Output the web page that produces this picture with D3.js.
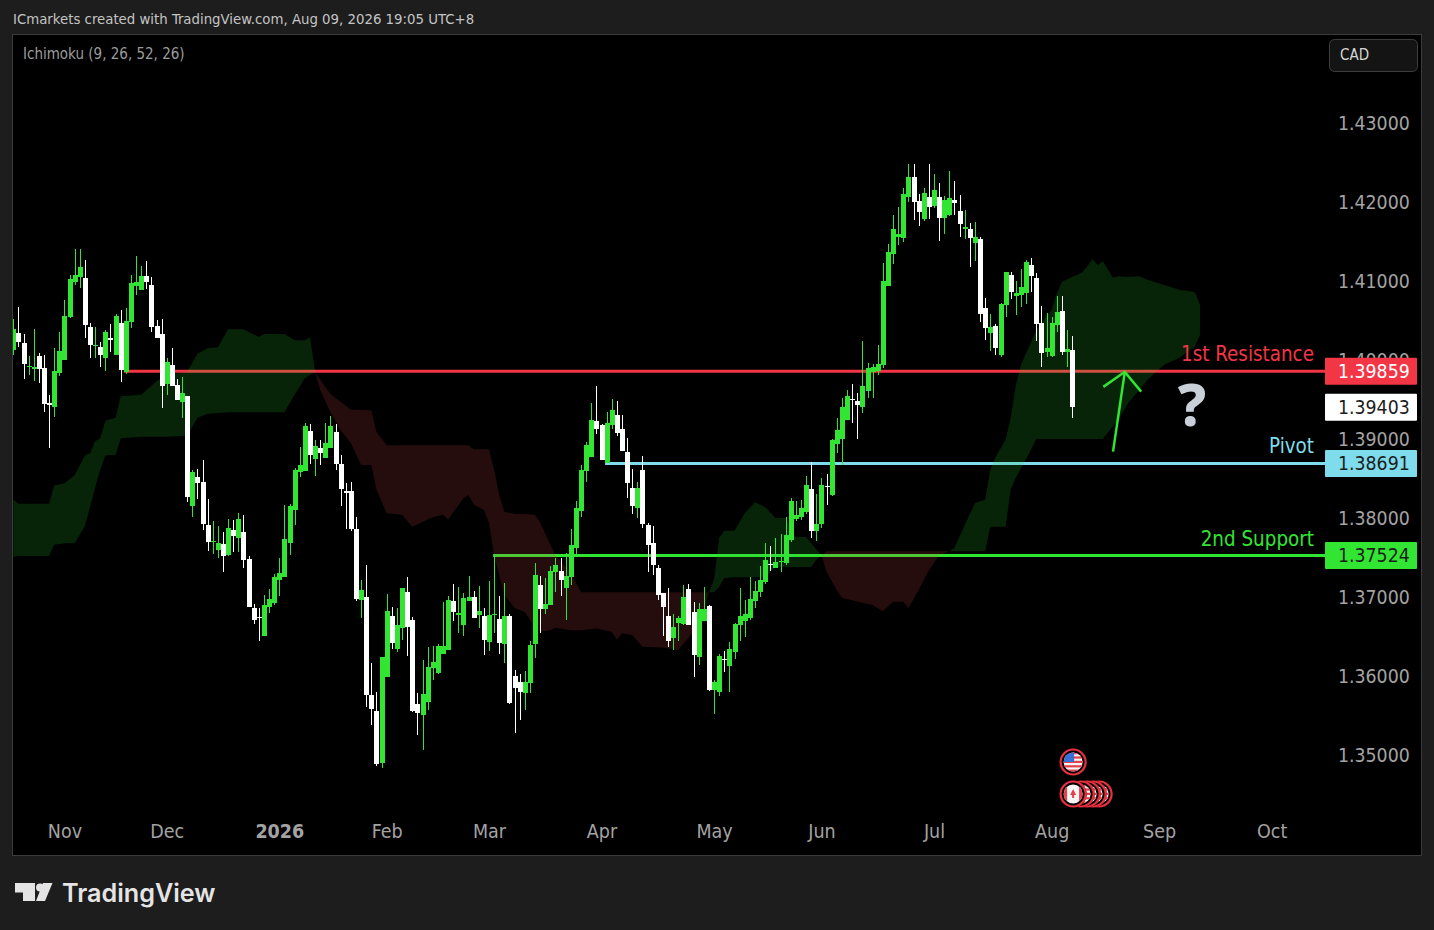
<!DOCTYPE html>
<html>
<head>
<meta charset="utf-8">
<script src="https://cdn.jsdelivr.net/npm/d3@7"></script>
<style>
  html, body { margin: 0; padding: 0; background: #1d1d1d; }
  svg { display: block; }
  text { font-family: "DejaVu Sans Condensed", "DejaVu Sans", sans-serif; }
</style>
</head>
<body>
<div id="viz"></div>
<script>
// candles, prices x 10000, one entry per trading day
const opens = [
  14013,14034,14022,13991,13989,14005,13990,13946,13941,13984,14000,14054,14099,14105,14104,14042,14018,14016,14003,14028,
  14006,14047,13985,14048,14094,14089,14106,14095,14043,14033,13970,13994,13968,13947,13954,13815,13852,13846,13791,13770,
  13760,13767,13753,13785,13775,13782,13748,13686,13675,13651,13687,13692,13722,13725,13768,13810,13858,13860,13910,13875,
  13889,13876,13889,13909,13868,13834,13834,13786,13696,13700,13576,13556,13490,13599,13676,13634,13661,13706,13671,13565,
  13551,13567,13610,13604,13628,13633,13695,13677,13665,13695,13700,13677,13676,13643,13677,13672,13641,13676,13600,13592,
  13578,13591,13641,13715,13685,13690,13732,13733,13711,13725,13762,13809,13860,13877,13923,13918,13870,13918,13930,13913,
  13884,13838,13813,13861,13791,13768,13737,13705,13676,13648,13667,13666,13710,13681,13624,13670,13689,13582,13580,13622,
  13613,13630,13665,13670,13673,13695,13706,13719,13742,13737,13744,13743,13772,13799,13801,13808,13837,13784,13792,13841,
  13829,13894,13900,13924,13951,13948,13941,13961,13985,13986,13994,14094,14134,14156,14154,14206,14232,14201,14179,14206,
  14195,14206,14180,14184,14203,14189,14166,14166,14148,14153,14066,14034,14043,14006,14070,14108,14081,14082,14085,14120,
  14104,14047,14010,14005,14044,14062,14010,14013
];
const highs = [
  14052,14067,14033,14005,14039,14009,14006,13956,14015,14035,14076,14108,14141,14141,14127,14047,14042,14023,14038,14046,
  14058,14063,14066,14108,14132,14119,14125,14105,14051,14052,14003,14015,13976,13978,13954,13861,13862,13873,13824,13796,
  13790,13782,13799,13798,13806,13804,13752,13691,13686,13703,13710,13729,13749,13816,13818,13863,13890,13920,13919,13899,
  13899,13920,13929,13919,13880,13844,13846,13801,13722,13740,13616,13580,13624,13704,13687,13686,13711,13725,13675,13578,
  13620,13637,13638,13641,13694,13701,13716,13713,13705,13727,13708,13714,13686,13720,13753,13701,13718,13679,13608,13603,
  13606,13644,13743,13727,13724,13739,13749,13749,13756,13786,13822,13867,13896,13946,13967,13919,13934,13951,13948,13930,
  13901,13862,13846,13878,13794,13790,13740,13705,13711,13679,13676,13715,13716,13694,13692,13713,13690,13595,13628,13632,
  13643,13667,13711,13696,13725,13720,13739,13768,13764,13775,13780,13801,13825,13822,13823,13853,13871,13830,13851,13856,
  13900,13927,13952,13962,13970,13958,14024,13996,13995,14019,14123,14147,14184,14194,14218,14248,14248,14210,14218,14248,
  14235,14224,14208,14239,14227,14209,14190,14173,14175,14156,14078,14058,14046,14072,14111,14111,14100,14115,14127,14129,
  14110,14068,14060,14054,14081,14081,14038,14030
];
const lows = [
  14006,14017,13976,13981,13973,13971,13934,13889,13928,13980,14000,14053,14095,14091,14028,14003,14003,13991,13986,14010,
  14006,13972,13982,14041,14082,14089,14090,14035,14028,13939,13956,13967,13949,13927,13820,13801,13824,13785,13758,13754,
  13749,13732,13752,13757,13757,13737,13687,13666,13644,13651,13680,13690,13701,13725,13753,13791,13852,13860,13868,13853,
  13867,13876,13889,13861,13815,13786,13784,13695,13673,13561,13538,13486,13484,13599,13634,13630,13646,13625,13554,13525,
  13506,13557,13595,13603,13628,13633,13670,13654,13651,13695,13673,13661,13627,13632,13654,13628,13616,13565,13528,13544,
  13557,13578,13623,13654,13679,13690,13706,13701,13671,13715,13754,13801,13846,13877,13906,13873,13870,13913,13904,13885,
  13825,13805,13800,13787,13732,13728,13696,13651,13637,13633,13644,13665,13665,13599,13614,13670,13581,13552,13575,13605,
  13580,13622,13644,13649,13671,13686,13700,13716,13733,13737,13732,13740,13770,13796,13797,13805,13775,13771,13787,13816,
  13828,13882,13867,13924,13920,13900,13933,13952,13952,13981,13990,14094,14122,14146,14149,14200,14177,14170,14176,14179,
  14192,14151,14159,14182,14184,14156,14153,14118,14125,14048,14025,14011,14006,14004,14054,14077,14057,14067,14071,14086,
  14024,13991,14004,14004,14035,14006,13991,13927
];
const closes = [
  14039,14023,13995,13992,13991,13989,13944,13943,13986,14011,14056,14103,14108,14118,14044,14019,14019,14006,14035,14025,
  14056,13987,14049,14097,14099,14106,14099,14042,14028,13967,13998,13967,13949,13958,13827,13858,13844,13792,13770,13771,
  13768,13752,13787,13777,13799,13747,13687,13671,13673,13690,13698,13725,13730,13773,13815,13861,13867,13917,13880,13891,
  13882,13895,13917,13868,13837,13832,13786,13698,13709,13576,13558,13489,13624,13682,13642,13665,13711,13662,13556,13553,
  13577,13611,13618,13638,13638,13696,13681,13680,13699,13700,13673,13682,13646,13677,13679,13642,13676,13566,13585,13580,
  13592,13639,13728,13685,13691,13733,13740,13722,13727,13766,13813,13861,13892,13924,13913,13873,13920,13937,13908,13885,
  13844,13815,13838,13792,13766,13740,13703,13687,13644,13662,13673,13700,13665,13627,13685,13685,13582,13592,13625,13620,
  13634,13666,13676,13678,13697,13708,13722,13747,13740,13744,13746,13779,13822,13804,13813,13842,13784,13792,13842,13839,
  13899,13911,13941,13954,13949,13943,13967,13990,13991,13995,14100,14137,14166,14159,14210,14232,14200,14187,14211,14194,
  14215,14180,14203,14205,14199,14172,14168,14154,14156,14058,14040,14042,14015,14071,14111,14086,14085,14092,14124,14106,
  14046,14009,14015,14047,14061,14010,14014,13940
];

const cloudBars = [
  0,1,7,8,10,12,14,15,16,17,18,20,21,25,28,30,34,36,38,40,42,45,48,49,53,55,57,58,59,
  60,62,64,66,68,70,71,73,76,78,80,82,84,85,88,89,90,92,93,94,95,96,98,100,102,103,105,106,109,111,114,117,118,119,121,123,127,130,133,135,136,
  137,138,139,141,143,145,147,149,151,152,153,155,156,157,158,
  159,161,162,164,168,170,172,174,175,177,179,181,183,
  184,186,188,190,191,192,194,195,196,197,199,200,202,203,204,205,207,209,210,211,212,213,215,216,218,220,222,225,228,231,232
];
const spanA = [
  13823,13818,13818,13841,13844,13854,13879,13882,13897,13901,13923,13927,13954,13956,13973,13981,13985,14008,14015,14016,14039,14039,14029,14033,14033,14025,14025,14029,13985,
  13962,13934,13911,13895,13867,13867,13836,13806,13804,13789,13795,13801,13804,13798,13825,13829,13817,13810,13794,13753,13728,13703,13686,13681,13661,13656,13658,13661,13658,13658,13660,13656,13646,13654,13652,13637,13636,13633,13656,13684,13706,
  13722,13775,13784,13784,13806,13820,13814,13800,13800,13785,13776,13776,13768,13760,13753,
  13732,13709,13699,13696,13690,13682,13694,13694,13686,13709,13734,13753,13758,
  13762,13791,13819,13823,13861,13877,13899,13927,13968,13994,14023,14038,14056,14063,14084,14099,14105,14111,14119,14128,14120,14125,14104,14106,14105,14106,14101,14095,14089,14086,14070
];
const spanB = [
  13751,13752,13752,13766,13768,13768,13790,13814,13839,13861,13879,13880,13901,13903,13903,13903,13904,13927,13932,13933,13934,13934,13934,13934,13934,13956,13977,13981,13985,
  13975,13957,13947,13937,13937,13936,13909,13892,13892,13892,13892,13892,13892,13892,13892,13892,13887,13887,13887,13861,13829,13808,13805,13805,13804,13794,13766,13753,13730,13706,13706,13706,13706,13706,13706,13706,13706,13706,13706,13706,13706,
  13706,13713,13724,13725,13725,13725,13725,13738,13738,13738,13738,13738,13738,13747,13753,
  13758,13758,13758,13758,13758,13758,13758,13758,13758,13758,13758,13758,13758,
  13758,13758,13758,13758,13789,13789,13789,13836,13851,13863,13887,13900,13900,13900,13900,13900,13900,13900,13900,13900,13900,13900,13916,13924,13946,13961,13977,13994,14003,14017,14032
];

// right scale and time scale
const priceTicks = [1.43, 1.42, 1.41, 1.40, 1.39, 1.38, 1.37, 1.36, 1.35];
const monthBars = [10, 30, 52, 73, 93, 115, 137, 158, 180, 203, 224, 246];
const monthLabels = ['Nov', 'Dec', '2026', 'Feb', 'Mar', 'Apr', 'May', 'Jun', 'Jul', 'Aug', 'Sep', 'Oct'];

// drawn levels
const levelPrices = [1.39859, 1.38691, 1.37524];
const levelStartBars = [21.6, 115.7, 93.8];
const levelNames = ['1st Resistance', 'Pivot', '2nd Support'];
const levelColors = ['#f23645', '#7fdcec', '#33e533'];
const lastPrice = 1.39403;

// hand drawn arrow, bar / price pairs
const arrowBars = [215, 217.3, 213.1, 217.3, 220.5];
const arrowPrices = [1.3884, 1.3985, 1.3966, 1.3985, 1.3960];

const width = 1434, height = 930;
const panel = { left: 13, top: 35, right: 1421, bottom: 855 };
const axisX = 1325;
const green = '#33e533';
const uiFont = '"DejaVu Sans Condensed", "DejaVu Sans", sans-serif';

const svg = d3.select('#viz').append('svg')
  .attr('width', width)
  .attr('height', height);

svg.append('rect')
  .attr('width', width).attr('height', height)
  .attr('fill', '#1d1d1d');

svg.append('rect')
  .attr('x', panel.left - 0.5).attr('y', panel.top - 0.5)
  .attr('width', panel.right - panel.left + 1).attr('height', panel.bottom - panel.top + 1)
  .attr('fill', '#000')
  .attr('stroke', '#3b3b3b');

svg.append('clipPath').attr('id', 'plot')
  .append('rect')
  .attr('x', panel.left).attr('y', panel.top)
  .attr('width', axisX - panel.left).attr('height', panel.bottom - panel.top);

const x = d3.scaleLinear().domain([0, 246]).range([13.3, 1271.6]);
const y = d3.scaleLinear().domain([1.43, 1.35]).range([123, 755]);

const plot = svg.append('g').attr('clip-path', 'url(#plot)');

// levels sit under the cloud, that is why they look duller inside it
levelPrices.forEach((p, i) => {
  plot.append('line')
    .attr('x1', x(levelStartBars[i]))
    .attr('x2', axisX)
    .attr('y1', y(p))
    .attr('y2', y(p))
    .attr('stroke', levelColors[i])
    .attr('stroke-width', 3);
});

// split the cloud where the spans cross, a crossing bar goes into both parts
const cloud = cloudBars.map((b, i) => ({ bar: b, a: spanA[i] / 1e4, b: spanB[i] / 1e4 }));
const parts = [];
let part = [];
cloud.forEach(d => {
  part.push(d);
  if (d.a === d.b && part.length > 1) {
    parts.push(part);
    part = [d];
  }
});
parts.push(part);

const cloudArea = d3.area()
  .x(d => x(d.bar))
  .y0(d => y(d.a))
  .y1(d => y(d.b));

parts.forEach(p => {
  const up = d3.sum(p, d => d.a - d.b) > 0;
  plot.append('path')
    .datum(p)
    .attr('d', cloudArea)
    .attr('fill', up ? 'rgb(40,200,50)' : 'rgb(210,70,70)')
    .attr('fill-opacity', 0.18);
});

// candles
const candles = opens.map((o, i) => ({ i, o: o / 1e4, h: highs[i] / 1e4, l: lows[i] / 1e4, c: closes[i] / 1e4 }));
const candleGroups = plot.append('g')
  .attr('shape-rendering', 'crispEdges')
  .selectAll('g')
  .data(candles)
  .join('g')
  .attr('fill', d => d.c >= d.o ? green : '#fff');

candleGroups.append('rect')
  .attr('x', d => Math.round(x(d.i)))
  .attr('width', 1)
  .attr('y', d => y(d.h))
  .attr('height', d => y(d.l) - y(d.h));

candleGroups.append('rect')
  .attr('x', d => Math.round(x(d.i)) - 2)
  .attr('width', 5)
  .attr('y', d => y(Math.max(d.o, d.c)))
  .attr('height', d => Math.max(1, Math.abs(y(d.o) - y(d.c))));

// arrow and question mark
svg.append('path')
  .attr('d', d3.line()(arrowBars.slice(0, 2).map((b, i) => [x(b), y(arrowPrices[i])])))
  .attr('fill', 'none')
  .attr('stroke', green)
  .attr('stroke-width', 2.5);
svg.append('path')
  .attr('d', d3.line()(arrowBars.slice(2).map((b, i) => [x(b), y(arrowPrices[i + 2])])))
  .attr('fill', 'none')
  .attr('stroke', green)
  .attr('stroke-width', 2.5);

svg.append('text')
  .attr('x', 1192).attr('y', 426)
  .attr('text-anchor', 'middle')
  .style('font-family', '"Noto Sans", sans-serif')
  .attr('font-size', 58)
  .attr('font-weight', 800)
  .attr('fill', '#c9d0d8')
  .text('?');

// level names above each line
levelPrices.forEach((p, i) => {
  svg.append('text')
    .attr('x', 1314)
    .attr('y', y(p) - 10)
    .attr('text-anchor', 'end')
    .attr('font-size', 20.4)
    .attr('fill', levelColors[i])
    .text(levelNames[i]);
});

// axes
const yAxis = svg.append('g')
  .attr('transform', 'translate(1338,0)')
  .call(d3.axisRight(y).tickValues(priceTicks).tickSize(0).tickPadding(0).tickFormat(d3.format('.5f')));
yAxis.select('.domain').remove();
yAxis.selectAll('text')
  .attr('font-family', uiFont)
  .attr('font-size', 19.3)
  .attr('fill', '#a3a3a3');

const monthTicks = d3.axisBottom(x)
  .tickValues(monthBars)
  .tickSize(0)
  .tickPadding(0)
  .tickFormat((d, i) => monthLabels[i]);
const xAxis = svg.append('g')
  .attr('transform', 'translate(0,824)')
  .call(monthTicks);
xAxis.select('.domain').remove();
xAxis.selectAll('text')
  .attr('font-family', uiFont)
  .attr('font-size', 19.5)
  .attr('fill', '#a3a3a3')
  .attr('font-weight', (d, i) => monthLabels[i] === '2026' ? 700 : 400);

// price tags on the scale
const tagPrices = [levelPrices[0], lastPrice, levelPrices[1], levelPrices[2]];
const tagFills = [levelColors[0], '#fff', levelColors[1], levelColors[2]];
const tagInk = ['#fff', '#1c1c1c', '#1c1c1c', '#1c1c1c'];
tagPrices.forEach((p, i) => {
  svg.append('rect')
    .attr('x', axisX).attr('y', y(p) - 13.5)
    .attr('width', 92).attr('height', 27)
    .attr('rx', 1)
    .attr('fill', tagFills[i]);
  svg.append('text')
    .attr('x', 1338).attr('y', y(p))
    .attr('dy', '0.35em')
    .attr('font-size', 19.3)
    .attr('fill', tagInk[i])
    .text(d3.format('.5f')(p));
});

// header
svg.append('text')
  .attr('x', 13).attr('y', 24)
  .attr('font-size', 14.8)
  .attr('fill', '#c4c4c4')
  .text('ICmarkets created with TradingView.com, Aug 09, 2026 19:05 UTC+8');

svg.append('text')
  .attr('x', 23).attr('y', 59)
  .attr('font-size', 15)
  .attr('fill', '#9c9c9c')
  .text('Ichimoku (9, 26, 52, 26)');

svg.append('rect')
  .attr('x', 1329.5).attr('y', 39.5)
  .attr('width', 88).attr('height', 32)
  .attr('rx', 5)
  .attr('fill', '#141414')
  .attr('stroke', '#3d3d3d');
svg.append('text')
  .attr('x', 1340).attr('y', 60)
  .attr('font-size', 15)
  .attr('fill', '#d4d4d4')
  .text('CAD');

// event flags under the last candle
const flagBar = 207;
function ring(g, cx, cy) {
  g.append('circle').attr('cx', cx).attr('cy', cy).attr('r', 13.5).attr('fill', '#000');
  g.append('circle').attr('cx', cx).attr('cy', cy).attr('r', 12.5).attr('fill', 'none')
    .attr('stroke', '#e8303f').attr('stroke-width', 2.2);
}
function usFlag(g, cx, cy, id) {
  ring(g, cx, cy);
  g.append('clipPath').attr('id', id)
    .append('circle').attr('cx', cx).attr('cy', cy).attr('r', 9.5);
  const f = g.append('g').attr('clip-path', `url(#${id})`);
  f.append('rect').attr('x', cx - 10).attr('y', cy - 10).attr('width', 20).attr('height', 20).attr('fill', '#f4f4f4');
  d3.range(0, 5).forEach(k => {
    f.append('rect').attr('x', cx - 10).attr('y', cy - 10 + k * 4.4).attr('width', 20).attr('height', 2.2).attr('fill', '#e8404a');
  });
  f.append('rect').attr('x', cx - 10).attr('y', cy - 10).attr('width', 11).attr('height', 10).attr('fill', '#3a6fd8');
}
function caFlag(g, cx, cy, id) {
  ring(g, cx, cy);
  g.append('clipPath').attr('id', id)
    .append('circle').attr('cx', cx).attr('cy', cy).attr('r', 9.5);
  const f = g.append('g').attr('clip-path', `url(#${id})`);
  f.append('rect').attr('x', cx - 10).attr('y', cy - 10).attr('width', 20).attr('height', 20).attr('fill', '#f6f6f6');
  f.append('rect').attr('x', cx - 10).attr('y', cy - 10).attr('width', 4).attr('height', 20).attr('fill', '#e8404a');
  f.append('rect').attr('x', cx + 6).attr('y', cy - 10).attr('width', 4).attr('height', 20).attr('fill', '#e8404a');
  f.append('path')
    .attr('d', `M${cx},${cy - 5}L${cx + 3},${cy + 1}L${cx + 1},${cy + 1}L${cx + 1},${cy + 4}L${cx - 1},${cy + 4}L${cx - 1},${cy + 1}L${cx - 3},${cy + 1}Z`)
    .attr('fill', '#e8404a');
}
const flags = svg.append('g');
usFlag(flags, x(flagBar) + 1, 762, 'us0');
[26, 20, 14, 8].forEach((dx, i) => usFlag(flags, x(flagBar) + 1 + dx, 794, `us${i + 1}`));
caFlag(flags, x(flagBar) + 1, 794, 'ca0');

// logo
const logo = svg.append('g').attr('fill', '#e4e4e4');
logo.append('path').attr('d', 'M15,883H35V901H23V892.5H15Z');
logo.append('circle').attr('cx', 40).attr('cy', 887.5).attr('r', 4);
logo.append('path').attr('d', 'M43,883H52.5L45,901H36Z');
logo.append('text')
  .attr('x', 62).attr('y', 902)
  .style('font-family', 'Inter, sans-serif')
  .attr('font-size', 25.2)
  .attr('font-weight', 600)
  .text('TradingView');
</script>
</body>
</html>
